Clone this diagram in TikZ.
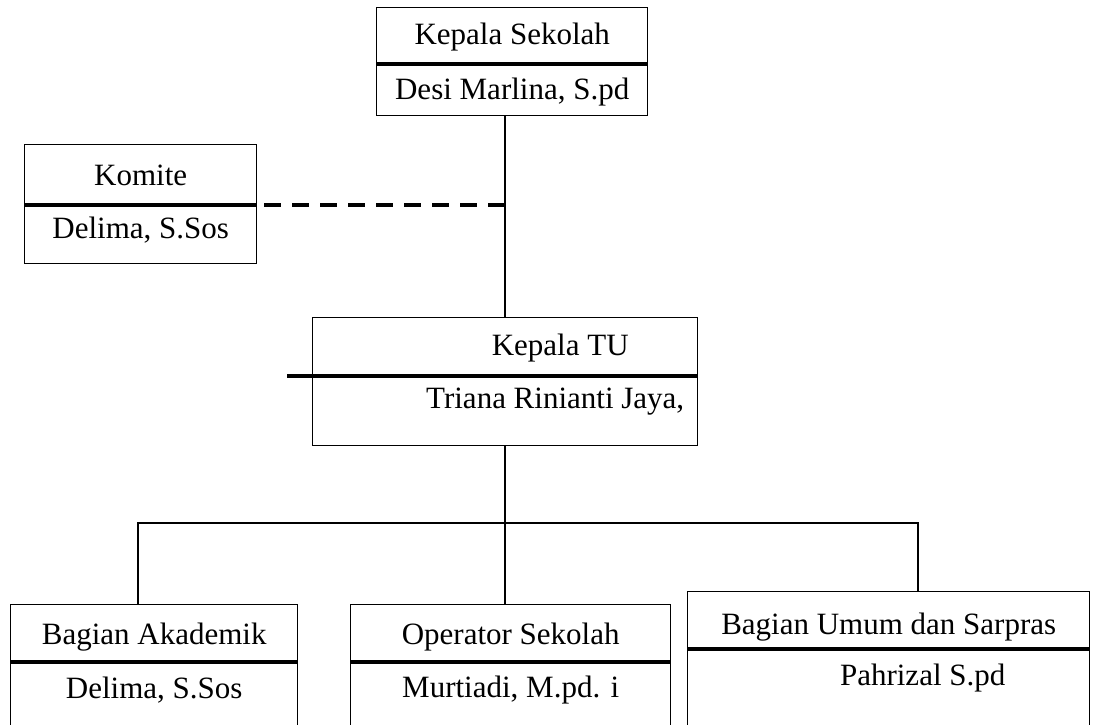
\documentclass[tikz,border=0pt]{standalone}
\usepackage{fontspec}
\setmainfont{Liberation Serif}
\usetikzlibrary{positioning}

\tikzset{
  frame/.style={draw, line width=1.4pt, inner sep=0pt, anchor=north west},
  divider/.style={line width=4pt},
  link/.style={line width=1.8pt},
  komitelink/.style={line width=4pt, dash pattern=on 17pt off 11pt},
}

\begin{document}
\begin{tikzpicture}[x=1pt, y=-1pt, every node/.style={font=\fontsize{31}{37}\selectfont}]
		%%%%% START %%%%%
		\useasboundingbox (0,0) rectangle (1093,725);
		\clip (0,0) rectangle (1093,725);
		
		% kepala sekolah
		\node[frame, minimum width=271pt, minimum height=108pt] (kepsek) at (376,7) {};
		\draw[divider] ([yshift=-57pt]kepsek.north west) -- ([yshift=-57pt]kepsek.north east);
		\node (kepsektitle) at ([yshift=-30pt]kepsek.north) {Kepala Sekolah};
		\node (kepsekname) at ([yshift=-85pt]kepsek.north) {Desi Marlina, S.pd};
		
		% komite
		\node[frame, minimum width=232pt, minimum height=119pt] (komite) at (24,144) {};
		\draw[divider] ([yshift=-61pt]komite.north west) -- ([yshift=-61pt]komite.north east);
		\node (komitetitle) at ([yshift=-31pt]komite.north) {Komite};
		\node (komitename) at ([yshift=-86pt]komite.north) {Delima, S.Sos};
		\coordinate (komitediv) at ([xshift=7pt, yshift=-61pt]komite.north east);
		
		% kepala tu
		\node[frame, minimum width=385pt, minimum height=128pt] (kepalatu) at (312,317) {};
		\draw[divider] ([xshift=-25pt, yshift=-59pt]kepalatu.north west) -- ([yshift=-59pt]kepalatu.north east);
		\node (kepalatutitle) at ([xshift=55pt, yshift=-31pt]kepalatu.north) {Kepala TU};
		\node (kepalatuname) at ([xshift=50pt, yshift=-85pt]kepalatu.north) {Triana Rinianti Jaya,};
		
		% bagian
		\node[frame, minimum width=287pt, minimum height=170pt] (akademik) at (10,604) {};
		\draw[divider] ([yshift=-58pt]akademik.north west) -- ([yshift=-58pt]akademik.north east);
		\node (akademiktitle) at ([yshift=-33pt]akademik.north) {Bagian Akademik};
		\node (akademikname) at ([yshift=-86pt]akademik.north) {Delima, S.Sos};
		
		\node[frame, minimum width=320pt, minimum height=170pt] (operator) at (350,604) {};
		\draw[divider] ([yshift=-58pt]operator.north west) -- ([yshift=-58pt]operator.north east);
		\node (operatortitle) at ([yshift=-33pt]operator.north) {Operator Sekolah};
		\node (operatorname) at ([yshift=-86pt]operator.north) {Murtiadi, M.pd. i};
		
		\node[frame, minimum width=402pt, minimum height=180pt] (umum) at (687,591) {};
		\draw[divider] ([yshift=-58pt]umum.north west) -- ([yshift=-58pt]umum.north east);
		\node (umumtitle) at ([yshift=-36pt]umum.north) {Bagian Umum dan Sarpras};
		\node (umumname) at ([xshift=34pt, yshift=-87pt]umum.north) {Pahrizal S.pd};
		
		% garis
		\draw[link] (kepsek.south -| kepalatu.north) -- (kepalatu.north);
		\draw[komitelink] (komitediv) -- (komitediv -| kepalatu.north);
		
		\coordinate (busleft) at (138,523);
		\coordinate (busright) at (918,523);
		\draw[link] (kepalatu.south) -- (kepalatu.south |- operator.north);
		\draw[link] (akademik.north -| busleft) -- (busleft) -- (busright) -- (busright |- umum.north);
		
		%%%%% END %%%%%
	\end{tikzpicture}
\end{document}
